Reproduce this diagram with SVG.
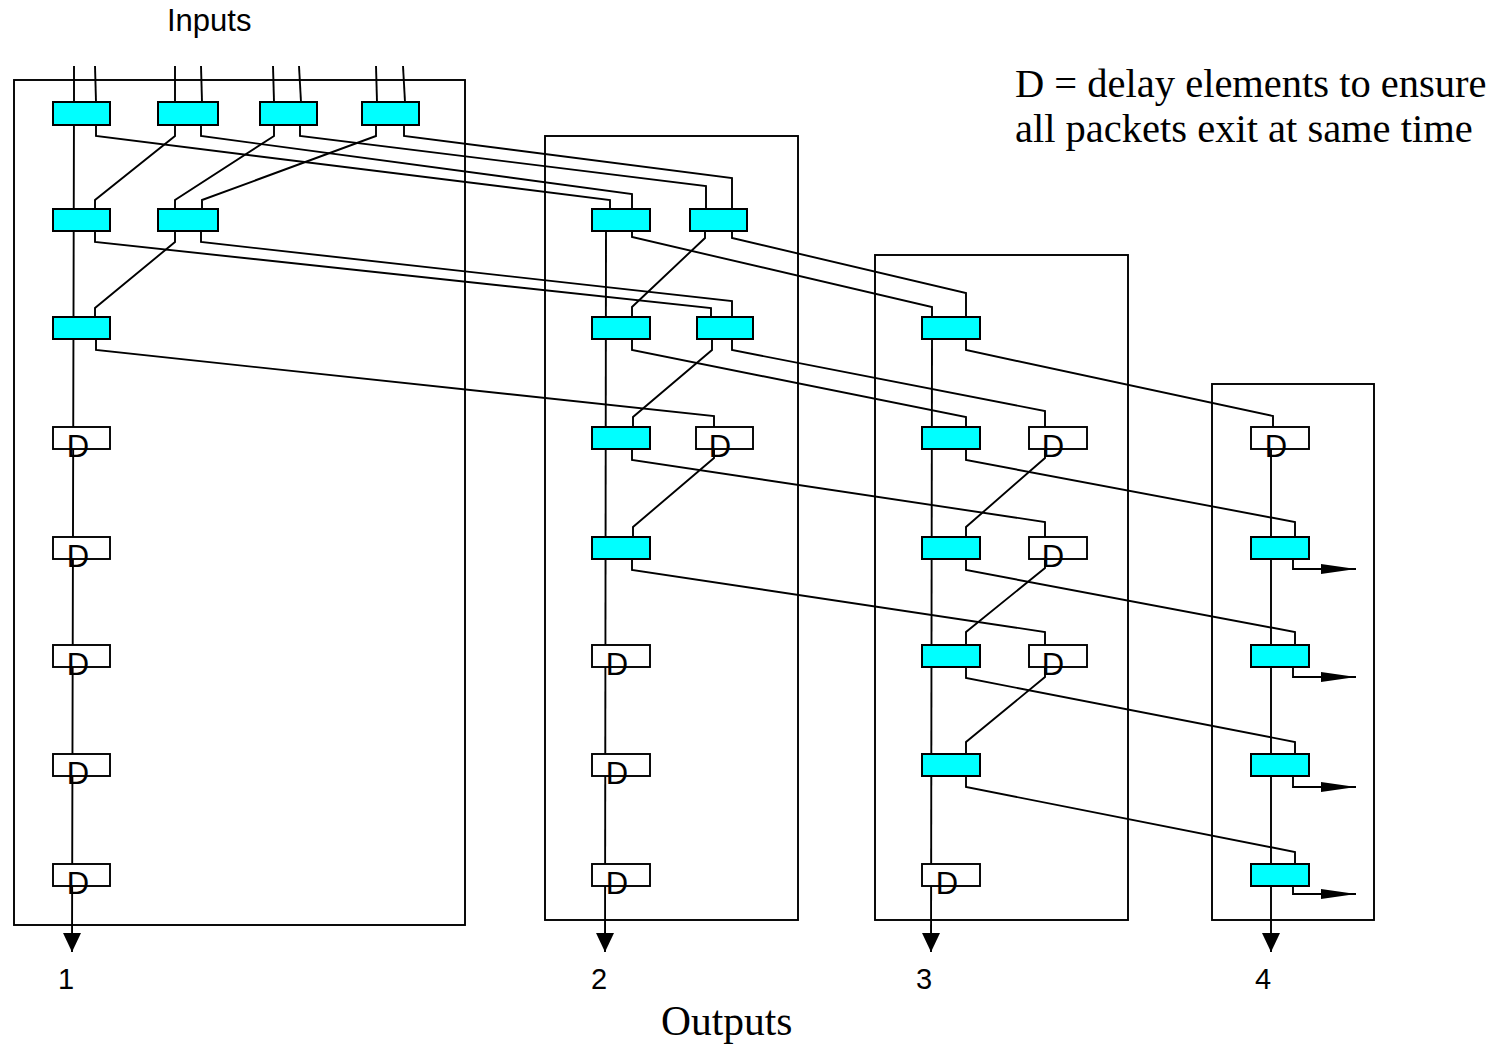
<svg xmlns="http://www.w3.org/2000/svg" width="1495" height="1044" viewBox="0 0 1495 1044">
<style>
.frame{fill:none;stroke:#000;stroke-width:1.9}
.w{fill:none;stroke:#000;stroke-width:1.9;stroke-linejoin:miter}
.c{fill:#00ffff;stroke:#000;stroke-width:2}
.d{fill:#fff;stroke:#000;stroke-width:1.9}
.dl{font-family:"Liberation Sans",Arial,sans-serif;font-size:31px;text-anchor:middle;fill:#000}
.s{font-family:"Liberation Sans",Arial,sans-serif;font-size:29px;fill:#000}
.serif{font-family:"Liberation Serif","Times New Roman",serif;font-size:40.5px;fill:#000}
</style>
<defs>
<marker id="down" markerUnits="userSpaceOnUse" markerWidth="20" markerHeight="20" refX="19" refY="9" orient="auto"><path d="M0,0 L19,9 L0,18 z" fill="#000"/></marker>
<marker id="right" markerUnits="userSpaceOnUse" markerWidth="36" markerHeight="12" refX="35" refY="5" orient="auto"><path d="M0,0 L35,5 L0,10 z" fill="#000"/></marker>
</defs>

<g id="frames">
<rect class="frame" x="14" y="80" width="451" height="845"/>
<rect class="frame" x="545" y="136" width="253" height="784"/>
<rect class="frame" x="875" y="255" width="253" height="665"/>
<rect class="frame" x="1212" y="384" width="162" height="536"/>
</g>

<g id="connectors">
<polyline class="w" points="74,66 74,102 72,952" marker-end="url(#down)"/>
<polyline class="w" points="606,231 605,952" marker-end="url(#down)"/>
<polyline class="w" points="932,339 931,952" marker-end="url(#down)"/>
<polyline class="w" points="1271,449 1271,952" marker-end="url(#down)"/>
<polyline class="w" points="95,66 96,102"/>
<polyline class="w" points="175,66 175,102"/>
<polyline class="w" points="201,66 202,102"/>
<polyline class="w" points="273,66 274,102"/>
<polyline class="w" points="299,66 301,102"/>
<polyline class="w" points="376,66 377,102"/>
<polyline class="w" points="403,66 405,102"/>
<polyline class="w" points="96,125 96,136 610,200 610,209"/>
<polyline class="w" points="175,125 175,136 95,200 95,209"/>
<polyline class="w" points="201,125 201,136 632,194 632,209"/>
<polyline class="w" points="274,125 274,136 175,200 175,209"/>
<polyline class="w" points="300,125 300,136 706,186 706,209"/>
<polyline class="w" points="376,125 376,136 202,200 202,209"/>
<polyline class="w" points="404,125 404,136 732,178 732,209"/>
<polyline class="w" points="95,231 95,242 711,308 711,317"/>
<polyline class="w" points="175,231 175,242 95,308 95,317"/>
<polyline class="w" points="201,231 201,242 732,301 732,317"/>
<polyline class="w" points="96,339 96,350 714,416 714,427"/>
<polyline class="w" points="632,231 632,237 932,307 932,317"/>
<polyline class="w" points="705,231 705,238 632,307 632,317"/>
<polyline class="w" points="732,231 732,238 966,293 966,317"/>
<polyline class="w" points="632,339 632,350 966,417 966,427"/>
<polyline class="w" points="712,339 712,350 633,417 633,427"/>
<polyline class="w" points="732,339 732,350 1045,411 1045,427"/>
<polyline class="w" points="632,449 632,460 1045,522 1045,537"/>
<polyline class="w" points="714,449 714,458 633,527 633,537"/>
<polyline class="w" points="632,559 632,570 1045,632 1045,645"/>
<polyline class="w" points="966,339 966,350 1273,416 1273,427"/>
<polyline class="w" points="966,449 966,460 1295,522 1295,537"/>
<polyline class="w" points="1045,449 1045,458 966,527 966,537"/>
<polyline class="w" points="966,559 966,570 1295,632 1295,645"/>
<polyline class="w" points="1045,559 1045,568 966,632 966,645"/>
<polyline class="w" points="966,667 966,678 1295,742 1295,754"/>
<polyline class="w" points="1045,667 1045,677 966,742 966,754"/>
<polyline class="w" points="966,776 966,787 1295,852 1295,864"/>
<polyline class="w" points="1293,559 1293,569 1356,569" marker-end="url(#right)"/>
<polyline class="w" points="1293,667 1293,677 1356,677" marker-end="url(#right)"/>
<polyline class="w" points="1293,776 1293,787 1356,787" marker-end="url(#right)"/>
<polyline class="w" points="1293,886 1293,894 1356,894" marker-end="url(#right)"/>
</g>

<g id="box1">
<rect id="b1r1c1" class="c" x="53" y="102" width="57" height="23"/>
<rect id="b1r1c2" class="c" x="158" y="102" width="60" height="23"/>
<rect id="b1r1c3" class="c" x="260" y="102" width="57" height="23"/>
<rect id="b1r1c4" class="c" x="362" y="102" width="57" height="23"/>
<rect id="b1r2c1" class="c" x="53" y="209" width="57" height="22"/>
<rect id="b1r2c2" class="c" x="158" y="209" width="60" height="22"/>
<rect id="b1r3c1" class="c" x="53" y="317" width="57" height="22"/>
<g id="b1d4"><rect class="d" x="53" y="427" width="57" height="22"/><text class="dl" x="78" y="457">D</text></g>
<g id="b1d5"><rect class="d" x="53" y="537" width="57" height="22"/><text class="dl" x="78" y="567">D</text></g>
<g id="b1d6"><rect class="d" x="53" y="645" width="57" height="22"/><text class="dl" x="78" y="675">D</text></g>
<g id="b1d7"><rect class="d" x="53" y="754" width="57" height="22"/><text class="dl" x="78" y="784">D</text></g>
<g id="b1d8"><rect class="d" x="53" y="864" width="57" height="22"/><text class="dl" x="78" y="894">D</text></g>
</g>

<g id="box2">
<rect id="b2r2a" class="c" x="592" y="209" width="58" height="22"/>
<rect id="b2r2b" class="c" x="690" y="209" width="57" height="22"/>
<rect id="b2r3a" class="c" x="592" y="317" width="58" height="22"/>
<rect id="b2r3b" class="c" x="697" y="317" width="56" height="22"/>
<rect id="b2r4a" class="c" x="592" y="427" width="58" height="22"/>
<g id="b2d4"><rect class="d" x="696" y="427" width="57" height="22"/><text class="dl" x="720" y="457">D</text></g>
<rect id="b2r5a" class="c" x="592" y="537" width="58" height="22"/>
<g id="b2d6"><rect class="d" x="592" y="645" width="58" height="22"/><text class="dl" x="617" y="675">D</text></g>
<g id="b2d7"><rect class="d" x="592" y="754" width="58" height="22"/><text class="dl" x="617" y="784">D</text></g>
<g id="b2d8"><rect class="d" x="592" y="864" width="58" height="22"/><text class="dl" x="617" y="894">D</text></g>
</g>

<g id="box3">
<rect id="b3r3" class="c" x="922" y="317" width="58" height="22"/>
<rect id="b3r4" class="c" x="922" y="427" width="58" height="22"/>
<g id="b3d4"><rect class="d" x="1029" y="427" width="58" height="22"/><text class="dl" x="1053" y="457">D</text></g>
<rect id="b3r5" class="c" x="922" y="537" width="58" height="22"/>
<g id="b3d5"><rect class="d" x="1029" y="537" width="58" height="22"/><text class="dl" x="1053" y="567">D</text></g>
<rect id="b3r6" class="c" x="922" y="645" width="58" height="22"/>
<g id="b3d6"><rect class="d" x="1029" y="645" width="58" height="22"/><text class="dl" x="1053" y="675">D</text></g>
<rect id="b3r7" class="c" x="922" y="754" width="58" height="22"/>
<g id="b3d8"><rect class="d" x="922" y="864" width="58" height="22"/><text class="dl" x="947" y="894">D</text></g>
</g>

<g id="box4">
<g id="b4d4"><rect class="d" x="1251" y="427" width="58" height="22"/><text class="dl" x="1276" y="457">D</text></g>
<rect id="b4r5" class="c" x="1251" y="537" width="58" height="22"/>
<rect id="b4r6" class="c" x="1251" y="645" width="58" height="22"/>
<rect id="b4r7" class="c" x="1251" y="754" width="58" height="22"/>
<rect id="b4r8" class="c" x="1251" y="864" width="58" height="22"/>
</g>

<g id="labels">
<text class="s" x="167" y="31" style="font-size:31px">Inputs</text>
<text class="s" x="66" y="989" text-anchor="middle">1</text>
<text class="s" x="599" y="989" text-anchor="middle">2</text>
<text class="s" x="924" y="989" text-anchor="middle">3</text>
<text class="s" x="1263" y="989" text-anchor="middle">4</text>
<text class="serif" x="661" y="1035" style="font-size:41.5px">Outputs</text>
<text class="serif" x="1015" y="97">D = delay elements to ensure</text>
<text class="serif" x="1015" y="142">all packets exit at same time</text>
</g>
</svg>
